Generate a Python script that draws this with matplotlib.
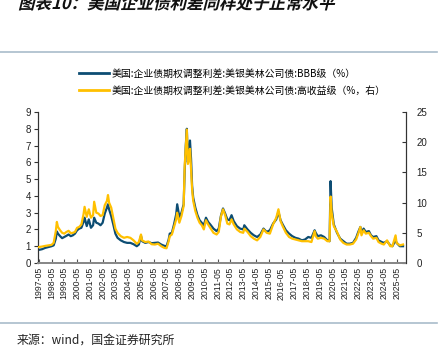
import matplotlib
matplotlib.use("Agg")
import matplotlib.pyplot as plt
import pandas as pd
from matplotlib.textpath import TextPath
from matplotlib.patches import PathPatch
from matplotlib.font_manager import FontProperties
from matplotlib.transforms import Affine2D
from matplotlib.lines import Line2D

# values
dates = [
    "1997-05", "1997-08", "1997-11", "1998-02", "1998-05", "1998-07", "1998-09", "1998-10", "1998-11",
    "1999-01", "1999-03", "1999-05", "1999-07", "1999-09", "1999-11",
    "2000-01", "2000-03", "2000-05", "2000-07", "2000-09", "2000-11", "2000-12",
    "2001-02", "2001-04", "2001-06", "2001-08", "2001-09", "2001-11",
    "2002-01", "2002-03", "2002-05", "2002-07", "2002-09", "2002-10", "2002-11",
    "2003-01", "2003-03", "2003-05", "2003-07", "2003-10",
    "2004-01", "2004-04", "2004-07", "2004-10",
    "2005-01", "2005-03", "2005-05", "2005-06", "2005-09", "2005-12",
    "2006-03", "2006-06", "2006-09", "2006-12",
    "2007-03", "2007-05", "2007-07", "2007-08", "2007-10", "2007-12",
    "2008-02", "2008-03", "2008-05", "2008-07", "2008-09", "2008-10", "2008-11", "2008-12",
    "2009-01", "2009-02", "2009-03", "2009-04", "2009-05", "2009-06", "2009-08", "2009-10", "2009-12",
    "2010-02", "2010-04", "2010-06", "2010-08", "2010-10",
    "2011-01", "2011-04", "2011-06", "2011-08", "2011-10", "2011-12",
    "2012-02", "2012-04", "2012-06", "2012-08", "2012-11",
    "2013-02", "2013-05", "2013-06", "2013-09", "2013-12",
    "2014-03", "2014-06", "2014-09", "2014-12",
    "2015-03", "2015-06", "2015-09", "2015-12",
    "2016-02", "2016-04", "2016-06", "2016-09", "2016-12",
    "2017-03", "2017-06", "2017-09", "2017-12",
    "2018-03", "2018-06", "2018-09", "2018-12",
    "2019-01", "2019-03", "2019-06", "2019-09", "2019-12",
    "2020-02", "2020-03", "2020-04", "2020-06", "2020-09", "2020-12",
    "2021-03", "2021-06", "2021-09", "2021-12",
    "2022-03", "2022-05", "2022-07", "2022-08", "2022-10", "2022-12",
    "2023-03", "2023-05", "2023-07", "2023-10", "2023-12",
    "2024-03", "2024-05", "2024-08", "2024-11",
    "2025-01", "2025-04", "2025-05", "2025-08", "2025-11",
]

bbb = [
    0.78, 0.82, 0.90, 0.95, 1.00, 1.05, 1.45, 1.88, 1.75,
    1.60, 1.48, 1.55, 1.62, 1.70, 1.60,
    1.65, 1.75, 1.95, 2.05, 2.10, 2.45, 2.70,
    2.20, 2.60, 2.10, 2.25, 2.70, 2.40,
    2.35, 2.25, 2.40, 2.95, 3.30, 3.50, 3.20,
    2.80, 2.30, 1.75, 1.50, 1.35,
    1.25, 1.20, 1.20, 1.12,
    1.00, 1.10, 1.62, 1.30, 1.20, 1.25,
    1.18, 1.20, 1.22, 1.10,
    1.02, 1.00, 1.40, 1.75, 1.80, 2.30,
    2.90, 3.50, 2.75, 3.00, 3.50, 5.50, 7.00, 8.00,
    6.00, 6.80, 7.30, 6.20, 4.60, 3.90, 3.30, 2.85, 2.55,
    2.40, 2.25, 2.70, 2.45, 2.30,
    2.05, 1.90, 2.05, 2.80, 3.25, 2.95,
    2.60, 2.55, 2.85, 2.50, 2.20,
    2.05, 2.00, 2.25, 2.00, 1.80,
    1.65, 1.55, 1.70, 2.05,
    1.85, 1.95, 2.35, 2.60,
    3.05, 2.55, 2.30, 1.95, 1.75,
    1.60, 1.50, 1.45, 1.35,
    1.40, 1.55, 1.50, 1.95,
    1.80, 1.60, 1.65, 1.55, 1.35,
    1.30, 4.88, 3.30, 2.30, 1.80, 1.45,
    1.30, 1.15, 1.15, 1.20,
    1.50, 1.85, 2.15, 1.80, 2.05, 1.85,
    1.90, 1.65, 1.55, 1.60, 1.35,
    1.25, 1.20, 1.30, 1.05,
    1.00, 1.35, 1.20, 1.00, 1.00,
]

high_yield = [
    2.64, 2.72, 2.83, 2.92, 3.00, 3.33, 5.28, 6.80, 5.97,
    5.42, 5.00, 4.86, 5.14, 5.33, 4.94,
    5.00, 5.14, 5.83, 5.97, 6.39, 8.06, 9.30,
    7.64, 8.89, 7.50, 7.92, 10.14, 8.33,
    8.19, 7.78, 7.92, 9.58, 10.28, 11.25, 10.00,
    9.17, 7.50, 5.69, 5.00, 4.44,
    4.17, 4.31, 4.17, 3.75,
    3.19, 3.47, 4.72, 3.75, 3.47, 3.56,
    3.11, 3.06, 3.19, 2.78,
    2.50, 2.44, 3.61, 4.44, 4.72, 5.97,
    7.22, 8.33, 6.67, 7.78, 9.44, 16.10, 19.20, 22.10,
    16.40, 17.20, 18.90, 15.60, 12.20, 10.30, 8.60, 7.50, 6.67,
    6.25, 5.56, 7.08, 6.39, 5.83,
    5.00, 4.72, 5.14, 7.64, 8.89, 7.92,
    6.53, 6.39, 7.22, 6.39, 5.56,
    5.14, 5.00, 5.69, 5.14, 4.44,
    4.03, 3.75, 4.31, 5.56,
    5.00, 4.86, 6.39, 7.50,
    8.90, 6.95, 6.11, 5.00, 4.31,
    4.03, 3.89, 3.75, 3.61,
    3.61, 3.61, 3.47, 5.28,
    4.44, 4.03, 4.17, 4.03, 3.61,
    3.61, 11.00, 8.33, 6.11, 5.14, 3.89,
    3.33, 3.06, 3.06, 3.19,
    3.89, 4.86, 5.97, 4.58, 5.42, 4.86,
    5.00, 4.44, 4.03, 4.17, 3.47,
    3.19, 3.06, 3.75, 2.78,
    2.78, 4.58, 3.33, 2.92, 3.06,
]

tick_years = list(range(1997, 2026))

label_bbb = "美国:企业债期权调整利差:美银美林公司债:BBB级（%）"
label_hy = "美国:企业债期权调整利差:美银美林公司债:高收益级（%，右）"
title = "图表10：美国企业债利差同样处于正常水平"
source = "来源：wind，国金证券研究所"

cjk = ["Noto Sans CJK SC", "DejaVu Sans"]
plt.rcParams["font.family"] = ["Liberation Sans", "DejaVu Sans"]

blue = "#0d4d73"
gold = "#ffc000"

x = pd.to_datetime(dates)

fig = plt.figure(figsize=(4.44, 3.5), dpi=100)
ax = fig.add_axes([38 / 444, 1 - 263 / 350, (405.5 - 38) / 444, (263 - 112) / 350])
ax2 = ax.twinx()

ax.plot(x, bbb, color=blue, lw=1.6, zorder=2)
ax2.plot(x, high_yield, color=gold, lw=1.6, zorder=3)

ax.set_ylim(0, 9)
ax.set_yticks(range(0, 10))
ax2.set_ylim(0, 25)
ax2.set_yticks(range(0, 26, 5))

ax.set_xlim(pd.Timestamp("1997-04-10"), pd.Timestamp("2026-01-10"))
ticks = [pd.Timestamp(f"{y}-05-01") for y in tick_years]
ax.set_xticks(ticks)
ax.set_xticklabels([t.strftime("%Y-%m") for t in ticks], rotation=90, fontsize=6.3)

for a in (ax, ax2):
    a.spines["top"].set_visible(False)
    a.spines["left"].set_color("#333333")
    a.spines["right"].set_color("#333333")
    a.spines["left"].set_linewidth(0.8)
    a.spines["right"].set_linewidth(0.8)
    a.spines["bottom"].set_color("#888888")
    a.spines["bottom"].set_linewidth(1.4)

ax.tick_params(axis="y", direction="out", length=3, width=0.8, labelsize=7, pad=2, colors="#333333", labelcolor="#222222")
ax2.tick_params(axis="y", direction="in", length=3, width=0.8, labelsize=7, pad=8, colors="#333333", labelcolor="#222222")
ax.tick_params(axis="x", direction="in", length=3, width=0.8, pad=3, colors="#555555", labelcolor="#222222")

# legend
handles = [Line2D([], [], color=blue, lw=2), Line2D([], [], color=gold, lw=2)]
fig.legend(handles, [label_bbb, label_hy], loc="upper left",
           bbox_to_anchor=(74 / 444, 1 - 64 / 350), frameon=False,
           prop=FontProperties(family=cjk, size=7.1), handlelength=3.0,
           handletextpad=0.3, labelspacing=0.7, borderpad=0)

# separator lines
fig.add_artist(Line2D([0, 437 / 444], [1 - 52 / 350] * 2, color="#a9bccb", lw=1.2))
fig.add_artist(Line2D([0, 437 / 444], [1 - 323 / 350] * 2, color="#a9bccb", lw=1.2))

# slanted bold title, partly cut off at the top
tp = TextPath((0, 0), title, size=16.5, prop=FontProperties(family=cjk, weight="bold"))
tr = Affine2D().skew_deg(14, 0).translate(18, 350 - 9).scale(1 / 444, 1 / 350) + fig.transFigure
fig.add_artist(PathPatch(tp, transform=tr, color="#111111", lw=0))

fig.text(17 / 444, 1 - 340 / 350, source, fontsize=8.6, family=cjk, color="#222222", va="center")

fig.savefig("out.png", dpi=100)
